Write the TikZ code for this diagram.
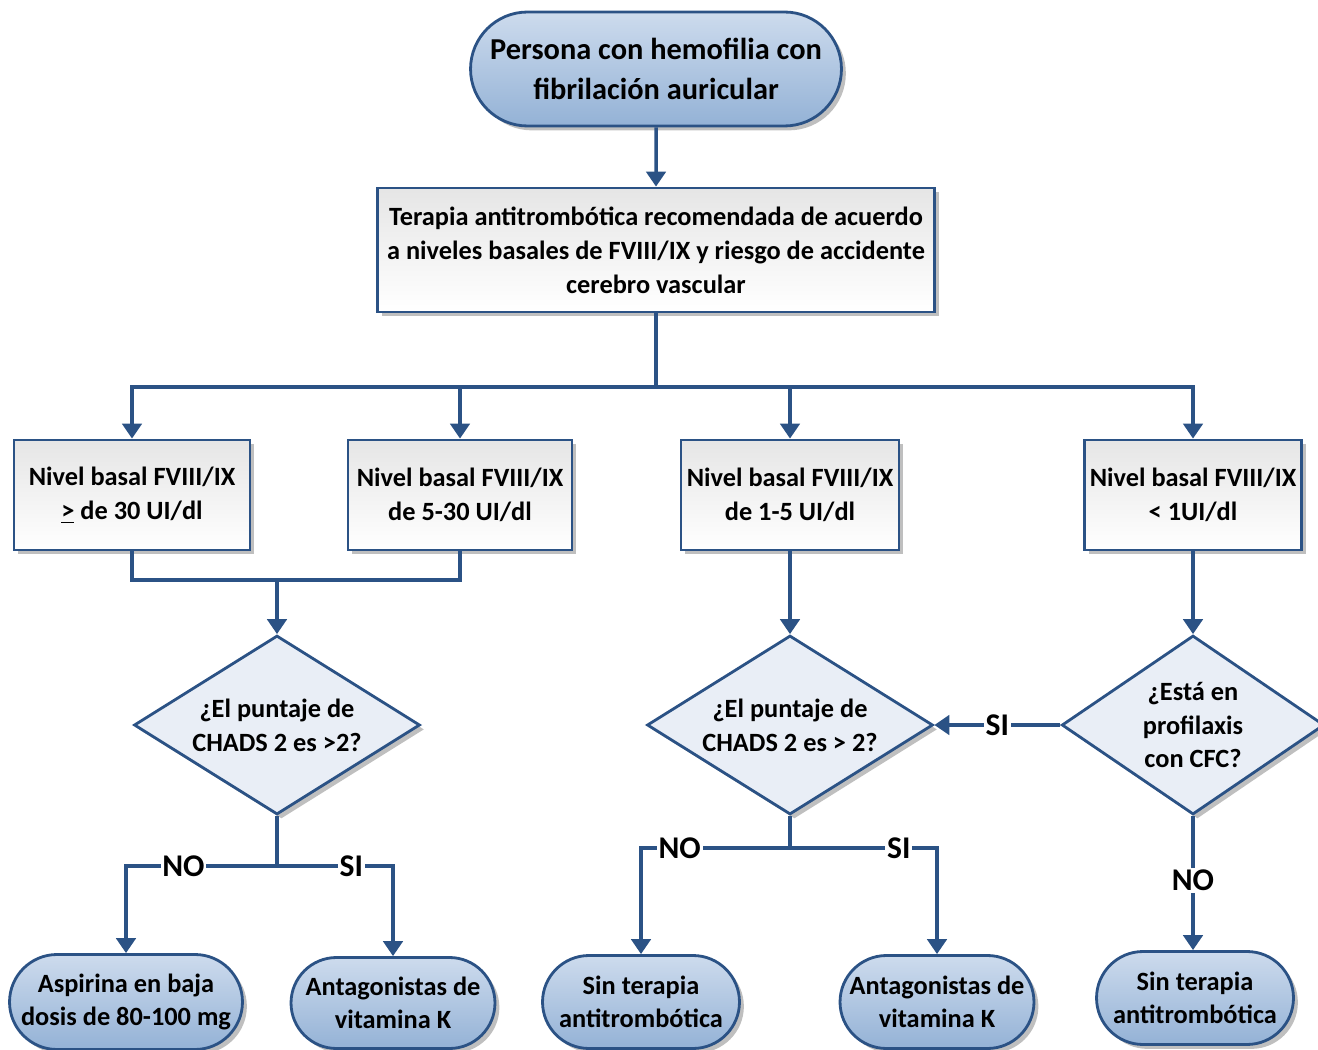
\documentclass[tikz,border=0pt]{standalone}
\usepackage{fontspec}
\setmainfont{Carlito}
\usetikzlibrary{shapes.geometric,shapes.misc,shadows,arrows.meta}
\definecolor{lineblue}{RGB}{43,82,133}
\definecolor{pilltop}{RGB}{205,219,237}
\definecolor{pillbot}{RGB}{148,178,214}
\definecolor{diafill}{RGB}{233,238,246}
\begin{document}
\begin{tikzpicture}[x=0.02cm,y=-0.02cm,font=\bfseries,
    shade/.style={drop shadow={shadow xshift=2.5pt,shadow yshift=-2.5pt,fill=black!50,opacity=.5}},
    pill/.style={rounded rectangle,draw=lineblue,line width=1.6pt,top color=pilltop,bottom color=pillbot,
        shade,inner sep=0pt,align=center,font=\bfseries\fontsize{15}{19}\selectfont},
    box/.style={rectangle,draw=lineblue,line width=1.6pt,top color=black!10,bottom color=white,
        shade,inner sep=0pt,align=center,minimum height=2.2cm,font=\bfseries\fontsize{15}{19.3}\selectfont},
    dia/.style={diamond,draw=lineblue,line width=1.6pt,fill=diafill,shade,inner sep=0pt,
        minimum width=5.72cm,minimum height=3.58cm},
    diatext/.style={align=center,font=\bfseries\fontsize{15}{19.3}\selectfont},
    line/.style={draw=lineblue,line width=2pt},
    arr/.style={line,-{Triangle[width=11pt,length=8.5pt]}},
    lbl/.style={fill=white,inner sep=1pt,font=\bfseries\fontsize{18}{20}\selectfont}]
\useasboundingbox (0,0) rectangle (1318,1050);
\node[pill,minimum width=7.42cm,minimum height=2.28cm,font=\bfseries\fontsize{17.3}{22.7}\selectfont]
    (start) at (656,69) {Persona con hemofilia con\\fibrilación auricular};
\node[box,minimum width=11.14cm,minimum height=2.48cm] (terapia) at (656,250)
    {Terapia antitrombótica recomendada de acuerdo\\a niveles basales de FVIII/IX y riesgo de accidente\\cerebro vascular};
\node[box,minimum width=4.72cm] (n1) at (132,495) {Nivel basal FVIII/IX\\\underline{>} de 30 UI/dl};
\node[box,minimum width=4.48cm] (n2) at (460,495) {Nivel basal FVIII/IX\\de 5-30 UI/dl};
\node[box,minimum width=4.36cm] (n3) at (790,495) {Nivel basal FVIII/IX\\de 1-5 UI/dl};
\node[box,minimum width=4.34cm] (n4) at (1193,495) {Nivel basal FVIII/IX\\< 1UI/dl};
\node[dia,label={[diatext]center:¿El puntaje de\\CHADS 2 es >2?}] (d1) at (277,725) {};
\node[dia,label={[diatext]center:¿El puntaje de\\CHADS 2 es > 2?}] (d2) at (790,725) {};
\node[dia,minimum width=5.25cm,label={[diatext]center:¿Está en\\profilaxis\\con CFC?}] (d3) at (1193,725) {};
\node[pill,minimum width=4.66cm,minimum height=1.9cm] (t1) at (126,1002) {Aspirina en baja\\dosis de 80-100 mg};
\node[pill,minimum width=4.08cm,minimum height=1.82cm] (t2) at (393,1003) {Antagonistas de\\vitamina K};
\node[pill,minimum width=3.94cm,minimum height=1.86cm] (t3) at (641,1002) {Sin terapia\\antitrombótica};
\node[pill,minimum width=3.88cm,minimum height=1.86cm] (t4) at (937,1002) {Antagonistas de\\vitamina K};
\node[pill,minimum width=3.94cm,minimum height=1.86cm] (t5) at (1195,998) {Sin terapia\\antitrombótica};
\coordinate (split) at (656,387);
\coordinate (join) at (277,580);
\coordinate (d1b) at (277,866);
\coordinate (d2b) at (790,848);
\draw[arr] (start) -- (terapia);
\draw[line] (terapia) -- (split);
\draw[arr] (split) -| (n1.north);
\draw[arr] (split) -| (n2.north);
\draw[arr] (split) -| (n3.north);
\draw[arr] (split) -| (n4.north);
\draw[line] (n1.south) |- (join) -| (n2.south);
\draw[arr] (join) -- (d1.north);
\draw[arr] (n3.south) -- (d2.north);
\draw[arr] (n4.south) -- (d3.north);
\draw[line] (d1.south) -- (d1b);
\draw[arr] (d1b) -| node[lbl,pos=0.31] {NO} (t1.north);
\draw[arr] (d1b) -| node[lbl,pos=0.32] {SI} (t2.north);
\draw[line] (d2.south) -- (d2b);
\draw[arr] (d2b) -| node[lbl,pos=0.37] {NO} (t3.north);
\draw[arr] (d2b) -| node[lbl,pos=0.37] {SI} (t4.north);
\draw[arr] (d3.west) -- node[lbl] {SI} (d2.east);
\draw[arr] (d3.south) -- node[lbl,pos=0.48] {NO} (d3.south |- t5.north);
\end{tikzpicture}
\end{document}
